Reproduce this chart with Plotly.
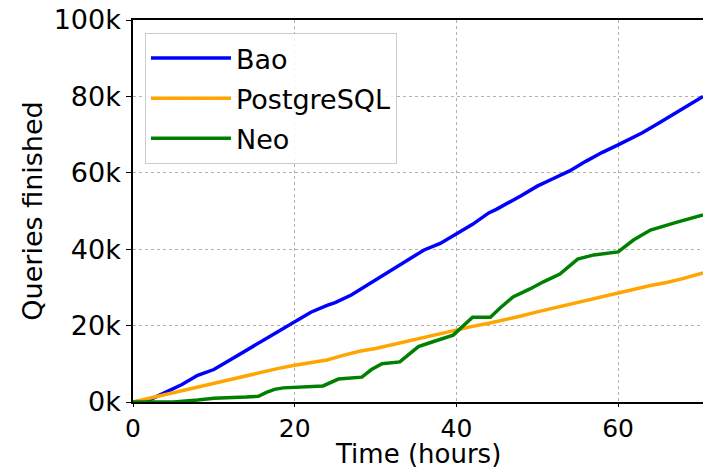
import plotly.graph_objects as go

# Data (hours, thousands of queries)
bao_x = [0, 2, 4, 6, 8, 9, 10, 12, 16, 20, 22, 24, 25, 27, 30, 33, 36, 38, 40, 42, 44, 45, 48, 50, 52, 54, 56, 58, 60, 62, 63, 65, 67, 70.5]
bao_y = [0, 0.5, 2.5, 4.5, 7, 7.8, 8.5, 11, 16, 21, 23.5, 25.3, 26, 28, 32, 36, 39.8, 41.5, 44, 46.5, 49.5, 50.5, 54, 56.5, 58.5, 60.5, 63, 65.3, 67.3, 69.5, 70.5, 73, 75.5, 80]

pg_x = [0, 2, 4, 6, 8, 10, 12, 14, 16, 18, 20, 22, 24, 26, 28, 30, 32, 34, 36, 38, 40, 42, 44, 46, 48, 50, 52, 54, 56, 58, 60, 62, 64, 66, 68, 70.5]
pg_y = [0, 1, 2, 3, 4, 5, 6, 6.8, 7.8, 8.8, 9.6, 10.3, 11, 12.2, 13.3, 14, 15, 16, 17, 17.8, 18.8, 19.8, 20.6, 21.5, 22.5, 23.6, 24.6, 25.6, 26.5, 27.4, 28.4, 29.4, 30.5, 31.3, 32.3, 33.8]

neo_x = [0, 5, 8, 10, 14, 15.5, 16.5, 17.5, 18.6, 21, 23.5, 25.4, 28.3, 29.5, 30.8, 33, 35.3, 37, 38.9, 39.6, 42, 44.2, 45.4, 47, 49.1, 50.7, 52.8, 55, 57, 60, 61.9, 64, 67.3, 70.5]
neo_y = [0, 0, 0.5, 1, 1.3, 1.5, 2.5, 3.3, 3.7, 3.9, 4.2, 6, 6.5, 8.5, 10, 10.5, 14.5, 15.7, 17, 17.5, 22.2, 22.2, 24.6, 27.5, 29.6, 31.4, 33.5, 37.4, 38.5, 39.3, 42.4, 45, 47.1, 49]

y_ticks = [0, 20, 40, 60, 80, 100]
y_ticktext = ["0k", "20k", "40k", "60k", "80k", "100k"]
x_ticks = [0, 20, 40, 60]

FONT = "DejaVu Sans"
FS = 27
FSX = 25

fig = go.Figure()
fig.add_trace(go.Scatter(x=bao_x, y=bao_y, mode="lines", name="Bao", legendgroup="a",
                         line=dict(color="#0000ff", width=3.5)))
fig.add_trace(go.Scatter(x=pg_x, y=pg_y, mode="lines", name="PostgreSQL", legendgroup="b",
                         line=dict(color="#ffa500", width=3.5)))
fig.add_trace(go.Scatter(x=neo_x, y=neo_y, mode="lines", name="Neo", legendgroup="c",
                         line=dict(color="#008000", width=3.5)))

fig.update_layout(
    width=703, height=469,
    margin=dict(l=133, r=0, t=20, b=67, autoexpand=False),
    paper_bgcolor="white", plot_bgcolor="white",
    font=dict(family=FONT, size=FS, color="black"),
    showlegend=True,
    legend=dict(x=0.021, y=0.966, xanchor="left", yanchor="top",
                bgcolor="rgba(255,255,255,0.85)", bordercolor="#cccccc", borderwidth=1,
                font=dict(family=FONT, size=FS, color="black"),
                tracegroupgap=2, itemwidth=80),
    annotations=[dict(text="Time (hours)", xref="paper", yref="paper", x=0.5, y=-0.179,
                      xanchor="center", yanchor="bottom", showarrow=False, borderpad=0,
                      font=dict(family=FONT, size=26, color="black"))],
)
fig.update_xaxes(
    range=[0, 70.5], tickvals=x_ticks, ticks="outside", ticklen=3, tickcolor="black",
    showline=True, linecolor="black", linewidth=1.5, mirror=True,
    showgrid=True, gridcolor="#b0b0b0", griddash="3px,3px", gridwidth=1,
    zeroline=False, automargin=False,
    tickfont=dict(family=FONT, size=FSX),
)
fig.update_yaxes(
    range=[0, 100], tickvals=y_ticks, ticktext=y_ticktext, ticks="outside", ticklen=5,
    tickcolor="black",
    showline=True, linecolor="black", linewidth=1.5, mirror=True,
    showgrid=True, gridcolor="#b0b0b0", griddash="3px,3px", gridwidth=1,
    zeroline=False, automargin=False,
    title=dict(text="Queries finished", font=dict(family=FONT, size=FS), standoff=3),
    tickfont=dict(family=FONT, size=FS),
)

fig.write_html("out.html")
